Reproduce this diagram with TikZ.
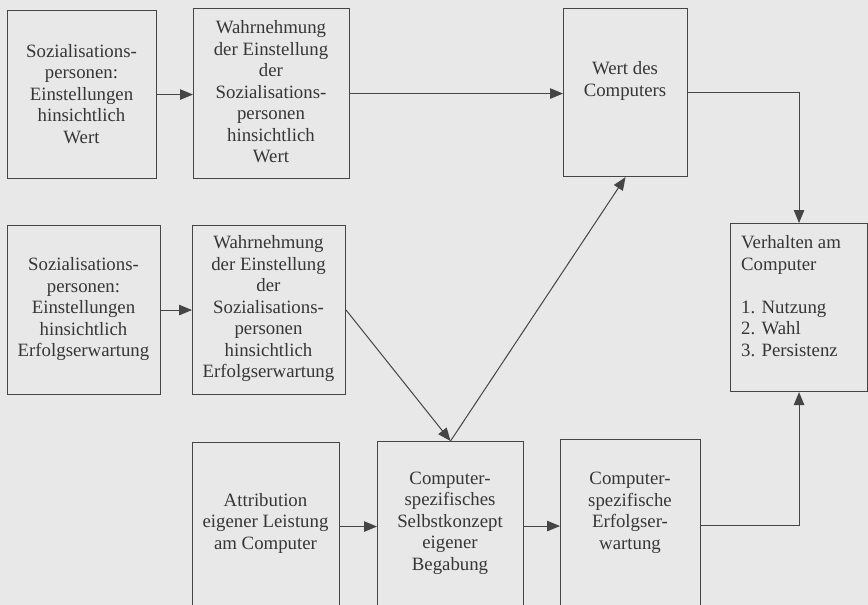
\documentclass[tikz,border=0pt]{standalone}
\usepackage{fontspec}
\setmainfont{Liberation Serif}
\usetikzlibrary{arrows.meta}
\definecolor{bg}{HTML}{E8E8E8}
\definecolor{ink}{HTML}{454545}
\definecolor{txt}{HTML}{363636}
\tikzset{
  box/.style={draw=ink, line width=1.1pt, anchor=north west, inner sep=0pt, minimum width=#1},
  lbl/.style={text=txt, align=center, inner sep=0pt, font=\fontsize{18.8}{21.5}\selectfont},
  arr/.style={draw=ink, line width=1pt, -{Triangle[length=13pt,width=10.5pt]}}
}
\begin{document}
\begin{tikzpicture}[x=1pt,y=-1pt]
\useasboundingbox (0,0) rectangle (868,605);
\fill[bg] (0,0) rectangle (868,605);
\clip (0,0) rectangle (868,605);
% boxes
\node[box=149pt, minimum height=168pt] (a1) at (7,10) {};
\node[box=156pt, minimum height=170pt] (b1) at (193,8) {};
\node[box=124pt, minimum height=168pt] (c) at (563,8) {};
\node[box=137pt, minimum height=168pt] (v) at (730,223) {};
\node[box=153pt, minimum height=169pt] (a2) at (7,225) {};
\node[box=153pt, minimum height=169pt] (b2) at (192,225) {};
\node[box=147pt, minimum height=168pt] (attr) at (192,442) {};
\node[box=146pt, minimum height=169pt] (sk) at (377,441) {};
\node[box=140pt, minimum height=171pt] (ew) at (560,439) {};
% texts
\node[lbl] (ta1) at (81.5,94) {Sozialisations-\\personen:\\Einstellungen\\hinsichtlich\\Wert};
\node[lbl] (tb1) at (271,92) {Wahrnehmung\\der Einstellung\\der\\Sozialisations-\\personen\\hinsichtlich\\Wert};
\node[lbl] (tc) at (625,81) {Wert des\\Computers};
\node[lbl, align=left, anchor=west] (tv) at (741,296) {Verhalten am\\Computer\\[21.5pt]1. Nutzung\\2. Wahl\\3. Persistenz};
\node[lbl] (ta2) at (83.5,309.5) {Sozialisations-\\personen:\\Einstellungen\\hinsichtlich\\Erfolgserwartung};
\node[lbl] (tb2) at (268.5,309) {Wahrnehmung\\der Einstellung\\der\\Sozialisations-\\personen\\hinsichtlich\\Erfolgserwartung};
\node[lbl] (tattr) at (265.5,523) {Attribution\\eigener Leistung\\am Computer};
\node[lbl] (tsk) at (450,523) {Computer-\\spezifisches\\Selbstkonzept\\eigener\\Begabung};
\node[lbl] (tew) at (630,513) {Computer-\\spezifische\\Erfolgser-\\wartung};
% connectors
\draw[arr] (a1.east) -- (a1.east -| b1.west);
\draw[arr] (b1.east) -- (b1.east -| c.west);
\draw[arr] (c.east) -| (v.north);
\draw[arr] (a2.east) -- (a2.east -| b2.west);
\draw[arr] (b2.east) -- (sk.north);
\draw[arr] (sk.north) -- (c.south);
\draw[arr] (attr.east) -- (attr.east -| sk.west);
\draw[arr] (sk.east) -- (sk.east -| ew.west);
\draw[arr] (ew.east) -| (v.south);
\end{tikzpicture}
\end{document}
